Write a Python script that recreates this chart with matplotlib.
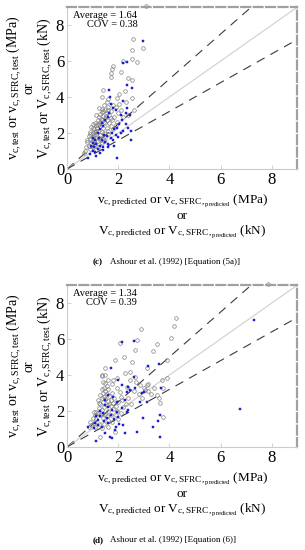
import matplotlib
matplotlib.use("Agg")
import matplotlib.pyplot as plt

plt.rcParams['font.family'] = ['Liberation Serif', 'DejaVu Serif']
plt.rcParams['mathtext.fontset'] = 'custom'
plt.rcParams['mathtext.rm'] = 'Liberation Serif'
plt.rcParams['mathtext.it'] = 'Liberation Serif:italic'
plt.rcParams['mathtext.bf'] = 'Liberation Serif:bold'

# ---------------- data ----------------
ticks = [0, 2, 4, 6, 8]
ratio_lines = [1.25, 1.0, 0.8]

top_stats = ["Average = 1.64", "COV = 0.38"]
bot_stats = ["Average = 1.34", "COV = 0.39"]
top_caption = "Ashour et al. (1992) [Equation (5a)]"
bot_caption = "Ashour et al. (1992) [Equation (6)]"

top_circ_x = [2.59, 2.96, 2.53, 2.55, 2.75, 2.17, 1.81, 1.77, 2.10, 1.72, 1.73, 2.40, 2.53, 1.42, 1.38, 1.81, 2.25, 2.05, 1.95, 2.55, 2.3, 3.1,
              1.55, 1.45, 1.6, 1.35, 1.42, 1.55, 1.3, 1.4, 1.25, 1.5, 1.65, 1.2, 1.35, 1.45, 1.1, 1.25, 1.0, 1.15, 1.3, 0.95, 1.4, 1.05, 1.2, 1.55,
              0.9, 1.0, 1.15, 1.3, 1.45, 0.85, 1.0, 1.1, 1.25, 0.9, 1.05, 1.2, 0.8, 0.95, 1.1, 1.35, 0.85, 1.0, 0.75, 0.9, 1.2, 0.7, 1.5, 1.6,
              1.7, 1.75, 1.85, 2.0, 2.1, 1.95, 2.4, 1.65, 1.15, 1.35, 1.5, 1.05, 2.2, 1.6, 1.7, 1.25, 1.12, 1.55, 0.98, 1.3, 1.4, 1.6, 1.8,
              1.38, 1.28, 1.18, 1.08, 1.48, 1.52, 1.62, 1.33, 1.22, 0.88, 1.02, 0.78, 0.65, 1.7, 1.9, 2.05, 2.6, 1.45, 1.9]
top_circ_y = [7.22, 6.74, 6.60, 6.09, 5.96, 6.02, 5.74, 5.54, 5.37, 5.35, 5.09, 5.04, 4.94, 4.39, 4.02, 3.56, 4.35, 4.15, 3.95, 3.95, 3.7, 9.05,
              3.75, 3.55, 3.45, 3.35, 3.22, 3.12, 3.05, 2.95, 2.88, 2.85, 3.0, 2.75, 2.7, 2.62, 2.58, 2.52, 2.48, 2.42, 2.38, 2.32, 2.28, 2.2, 2.14, 2.3,
              2.08, 2.0, 1.95, 1.9, 2.0, 1.85, 1.8, 1.75, 1.7, 1.65, 1.6, 1.55, 1.5, 1.45, 1.4, 1.45, 1.3, 1.25, 1.2, 1.1, 1.2, 1.0, 1.8, 2.1,
              2.4, 2.7, 2.9, 3.1, 3.3, 2.6, 3.0, 2.55, 2.1, 2.05, 2.55, 1.9, 2.9, 3.9, 3.2, 3.4, 3.0, 2.75, 1.55, 1.6, 1.75, 1.95, 2.2,
              3.15, 2.62, 2.3, 2.05, 3.3, 2.95, 3.3, 2.8, 2.45, 1.95, 2.3, 1.6, 0.9, 2.85, 3.45, 3.6, 3.3, 1.55, 2.45]

top_sq_x = [2.96, 2.33, 2.17, 2.33, 2.53, 1.65, 1.68, 2.19, 2.34, 2.46, 2.3, 1.97, 2.49, 0.83, 0.9, 1.0, 1.1, 1.05, 1.2, 1.3, 1.15, 1.4,
            1.5, 1.35, 1.6, 1.7, 1.8, 1.9, 2.0, 2.1, 2.2, 1.95, 2.05, 2.15, 1.85, 1.75, 1.55, 1.45, 1.25, 1.1, 1.0, 0.95, 1.2, 1.3, 1.4,
            1.5, 1.6, 1.65, 1.8, 1.7, 1.9, 2.1, 2.3, 2.4, 1.85, 1.6, 1.3, 1.15, 1.4, 2.5, 1.35, 1.0]
top_sq_y = [7.11, 5.96, 5.91, 4.67, 4.52, 4.39, 4.02, 3.80, 3.37, 3.0, 3.1, 0.59, 1.61, 0.63, 0.85, 1.0, 0.95, 1.2, 1.1, 1.3, 1.4, 1.25,
            1.5, 1.6, 1.4, 1.7, 1.6, 1.9, 1.8, 2.0, 2.1, 2.3, 2.5, 2.7, 2.2, 2.0, 1.85, 1.9, 1.75, 1.6, 1.45, 1.3, 2.0, 2.2, 2.4,
            2.7, 2.9, 3.1, 3.4, 3.6, 3.3, 3.0, 2.5, 2.3, 1.3, 1.2, 0.9, 0.75, 1.05, 2.1, 2.55, 1.7]

bot_circ_x = [7.86, 4.26, 4.19, 4.06, 3.53, 2.88, 2.75, 2.66, 3.35, 2.07, 2.23, 2.55, 1.88, 1.48, 3.11, 3.89, 3.89, 3.76, 3.61, 3.27,
              3.11, 2.85, 2.46, 2.27, 1.94, 1.36, 1.38, 1.81, 2.46, 2.66, 3.18, 3.05, 3.5, 3.63, 3.76, 2.92, 2.07, 2.4, 1.29, 1.88, 1.13,
              1.5, 1.55, 1.45, 1.6, 1.5, 1.4, 1.55, 1.65, 1.45, 1.35, 1.5, 1.6, 1.4, 1.3, 1.55, 1.7, 1.45, 1.25, 1.35, 1.6, 1.8, 1.9,
              2.0, 1.85, 1.75, 1.2, 1.1, 1.3, 1.5, 1.7, 1.0, 1.15, 1.4, 1.6, 1.9, 2.1, 2.2, 2.3, 0.9, 1.05, 1.25, 1.45, 1.75, 2.0,
              1.1, 1.35, 1.6, 0.95, 1.2, 1.3, 1.4, 1.6, 1.65, 1.7, 2.1, 2.5, 2.8, 3.0, 2.6, 1.95, 2.15, 1.05, 0.85, 1.55, 1.8, 1.25,
              1.35, 1.5, 1.75, 1.95, 2.35, 2.7, 3.15, 3.4, 3.7]
bot_circ_y = [9.05, 7.15, 6.72, 6.04, 5.72, 6.54, 5.94, 5.39, 5.35, 5.76, 4.98, 4.74, 4.83, 4.37, 4.37, 4.83, 3.81, 3.26, 2.71, 2.94,
              3.44, 3.44, 3.72, 4.09, 3.81, 3.94, 4.0, 3.72, 4.15, 3.91, 3.48, 3.17, 2.89, 2.43, 1.69, 2.71, 3.07, 2.71, 0.57, 0.85, 1.96,
              3.55, 3.4, 3.3, 3.2, 3.1, 3.0, 2.95, 2.85, 2.8, 2.7, 2.65, 2.55, 2.5, 2.4, 2.35, 2.3, 2.2, 2.15, 2.05, 2.0, 2.1, 2.3,
              2.5, 2.7, 3.0, 1.9, 1.8, 1.75, 1.85, 1.8, 1.6, 1.55, 1.6, 1.5, 1.75, 1.9, 2.2, 2.4, 1.4, 1.35, 1.3, 1.25, 1.4, 1.55,
              1.1, 1.05, 1.1, 1.2, 2.6, 2.9, 3.6, 3.7, 2.4, 2.6, 2.8, 2.4, 2.95, 3.3, 3.1, 2.0, 2.6, 1.95, 1.1, 1.7, 2.45, 2.45,
              3.2, 4.0, 3.5, 3.3, 3.35, 3.6, 3.1, 3.3, 3.7]

bot_sq_x = [7.32, 6.76, 2.14, 2.62, 1.72, 3.18, 3.59, 3.67, 2.92, 2.85, 3.63, 3.54, 3.37, 3.63, 2.72, 2.2, 1.68, 1.13, 2.33, 2.0,
            2.46, 2.27, 2.98, 2.4, 3.11, 3.02, 2.66, 2.33, 2.27, 1.94, 2.14, 2.4, 2.63, 1.75, 1.48, 1.88, 1.35, 1.61, 1.22, 1.09,
            0.83, 1.94, 1.75, 2.14, 1.61, 1.48, 2.0, 1.3, 1.4, 1.55, 1.2, 1.05, 1.45, 1.7, 1.85, 1.5, 1.6, 1.8, 1.3, 1.15, 2.05, 1.9]
bot_sq_y = [7.06, 2.11, 5.82, 5.91, 4.37, 4.5, 4.61, 3.3, 2.98, 2.52, 1.78, 1.44, 1.13, 0.57, 0.85, 1.22, 0.57, 0.33, 1.96, 3.72,
            3.17, 0.76, 1.59, 2.06, 2.52, 3.07, 3.26, 3.07, 2.61, 2.52, 3.44, 3.35, 3.91, 0.48, 0.76, 0.94, 1.13, 1.31, 1.5, 1.31,
            1.13, 1.96, 2.06, 2.15, 2.24, 2.33, 1.69, 1.7, 1.9, 1.6, 1.2, 1.05, 1.45, 1.75, 1.55, 2.6, 2.9, 2.8, 2.0, 1.7, 1.25, 1.1]

# ---------------- figure ----------------
W, H = 305, 550
fig = plt.figure(figsize=(W / 100, H / 100), dpi=100)

ylab = (r"$\mathrm{v}_{\mathrm{c,test}}$ or $\mathrm{v}_{\mathrm{c,SFRC,test}}$ (MPa)" + "\nor\n" +
        r"$\mathrm{V}_{\mathrm{c,test}}$ or $\mathrm{V}_{\mathrm{c,SFRC,test}}$ (kN)")
xlab = (r"$\mathrm{v}_{\mathrm{c,predicted}}$ or $\mathrm{v}_{\mathrm{c,SFRC,}_{\mathrm{predicted}}}$ (MPa)" + "\nor\n" +
        r"$\mathrm{V}_{\mathrm{c,predicted}}$ or $\mathrm{V}_{\mathrm{c,SFRC,}_{\mathrm{predicted}}}$ (kN)")


def panel(rect, cx, cy, sx, sy, stats, tag, caption, cap_y):
    ax = fig.add_axes(rect)
    ax.set_xlim(0, 9)
    ax.set_ylim(0, 9)
    xs = [0, 9]
    for k in ratio_lines:
        if k == 1.0:
            ax.plot(xs, [k * v for v in xs], color='#cfcfcf', lw=0.8, zorder=1)
        else:
            ax.plot(xs, [k * v for v in xs], color='#3a3a3a', lw=0.8,
                    linestyle=(0, (8, 6)), zorder=1)
    ax.plot(cx, cy, 'o', mfc='none', mec='#808080', ms=2.6, mew=0.5, zorder=2, clip_on=False)
    ax.plot(sx, sy, 's', mfc='#1f2bff', mec='#1010a0', ms=1.9, mew=0.3, zorder=3)
    ax.set_xticks(ticks)
    ax.set_yticks(ticks)
    ax.tick_params(direction='in', length=3, width=0.6, color='#c8c8c8',
                   labelsize=12, pad=2)
    for s in ['left', 'bottom']:
        ax.spines[s].set_color('#cccccc')
        ax.spines[s].set_linewidth(0.8)
    for s in ['top', 'right']:
        ax.spines[s].set_color('#a0a0a0')
        ax.spines[s].set_linewidth(1.6)
        ax.spines[s].set_linestyle((0, (4, 1.6)))
    ax.text(0.305, 0.975, stats[0] + "\n" + stats[1], transform=ax.transAxes,
            ha='right', va='top', fontsize=7.5, linespacing=1.05,
            multialignment='right')
    ax.set_ylabel(ylab, fontsize=10, linespacing=1.0, labelpad=1)
    ax.set_xlabel(xlab, fontsize=9.5, linespacing=1.15, labelpad=3)
    fig.text(0.305, cap_y, tag, fontsize=6.5, fontweight='bold', ha='left', va='center')
    fig.text(0.362, cap_y, caption, fontsize=6.5, ha='left', va='center')
    return ax


panel([0.2197, 0.6927, 0.7554, 0.2945], top_circ_x, top_circ_y, top_sq_x, top_sq_y,
      top_stats, "(c)", top_caption, 1 - 262 / H)
panel([0.2197, 0.1873, 0.7554, 0.2945], bot_circ_x, bot_circ_y, bot_sq_x, bot_sq_y,
      bot_stats, "(d)", bot_caption, 1 - 540 / H)

fig.savefig("out.png", dpi=100)
